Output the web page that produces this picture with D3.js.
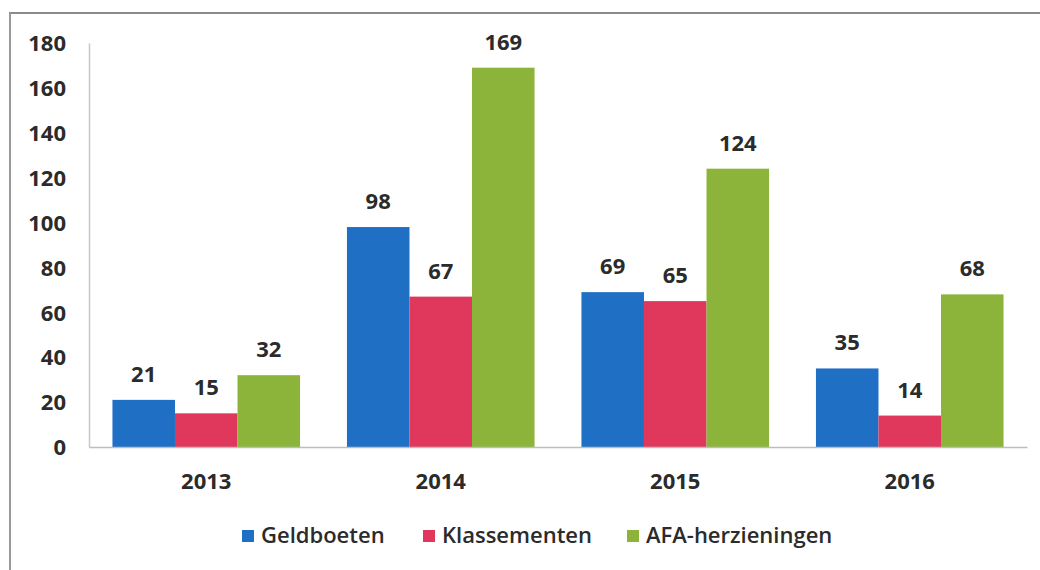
<!DOCTYPE html>
<html>
<head>
<meta charset="utf-8">
<script src="https://cdn.jsdelivr.net/npm/d3@7"></script>
<style>
  body { margin: 0; background: #fff; }
  svg text { font-family: "Open Sans", sans-serif; font-weight: 700; fill: #2b2b2b; }
</style>
</head>
<body>
<svg id="chart" width="1040" height="570"></svg>
<script>
// data
const years = ["2013", "2014", "2015", "2016"];
const seriesNames = ["Geldboeten", "Klassementen", "AFA-herzieningen"];
const geldboeten = [21, 98, 69, 35];
const klassementen = [15, 67, 65, 14];
const afaHerzieningen = [32, 169, 124, 68];
const yTicks = [0, 20, 40, 60, 80, 100, 120, 140, 160, 180];
const colors = ["#1f70c4", "#e0385c", "#8cb43b"];

const seriesValues = [geldboeten, klassementen, afaHerzieningen];

const svg = d3.select("#chart");

// frame lines (scanned page border)
svg.append("line")
  .attr("x1", 9).attr("x2", 1040).attr("y1", 13).attr("y2", 13)
  .attr("stroke", "#8a8a8a").attr("stroke-width", 2);
svg.append("line")
  .attr("x1", 10).attr("x2", 10).attr("y1", 13).attr("y2", 570)
  .attr("stroke", "#9a9a9a").attr("stroke-width", 2);

const x0 = d3.scaleBand()
  .domain(years)
  .range([89, 1027])
  .paddingInner(0.2)
  .paddingOuter(0.1);

const x1 = d3.scaleBand()
  .domain(seriesNames)
  .range([0, x0.bandwidth()]);

const y = d3.scaleLinear()
  .domain([0, 180])
  .range([447, 43]);

// y axis
const yAxis = svg.append("g")
  .attr("transform", "translate(89,0)")
  .call(d3.axisLeft(y).tickValues(yTicks).tickSize(0).tickPadding(23));
yAxis.select(".domain").attr("stroke", "#c8c8c8").attr("stroke-width", 1.5);
yAxis.selectAll("text")
  .style("font-size", "22px")
  .attr("dy", "0.35em");

// bars
const groups = svg.append("g")
  .selectAll("g")
  .data(years)
  .join("g")
  .attr("transform", d => `translate(${x0(d)},0)`);

groups.selectAll("rect")
  .data((d, i) => seriesNames.map((s, j) => ({ s, j, v: seriesValues[j][i] })))
  .join("rect")
  .attr("x", d => x1(d.s))
  .attr("width", x1.bandwidth())
  .attr("y", d => y(d.v))
  .attr("height", d => y(0) - y(d.v))
  .attr("fill", d => colors[d.j]);

groups.selectAll("text.val")
  .data((d, i) => seriesNames.map((s, j) => ({ s, j, v: seriesValues[j][i] })))
  .join("text")
  .attr("class", "val")
  .attr("x", d => x1(d.s) + x1.bandwidth() / 2)
  .attr("y", d => y(d.v) - 18)
  .attr("text-anchor", "middle")
  .style("font-size", "22px")
  .text(d => d.v);

// x axis
const xAxis = svg.append("g")
  .attr("transform", "translate(0,447)")
  .call(d3.axisBottom(x0).tickSize(0).tickPadding(26).tickSizeOuter(0));
xAxis.select(".domain").attr("stroke", "#bdbdbd").attr("stroke-width", 1.5);
xAxis.selectAll("text").style("font-size", "22px");

// legend
const legendX = [242, 423, 627];
const legend = svg.append("g")
  .selectAll("g")
  .data(seriesNames)
  .join("g")
  .attr("transform", (d, i) => `translate(${legendX[i]},530)`);

legend.append("rect")
  .attr("width", 12)
  .attr("height", 12)
  .attr("fill", (d, i) => colors[i]);

legend.append("text")
  .attr("x", 19)
  .attr("y", 13)
  .style("font-size", "22px")
  .style("font-weight", "600")
  .text(d => d);
</script>
</body>
</html>
